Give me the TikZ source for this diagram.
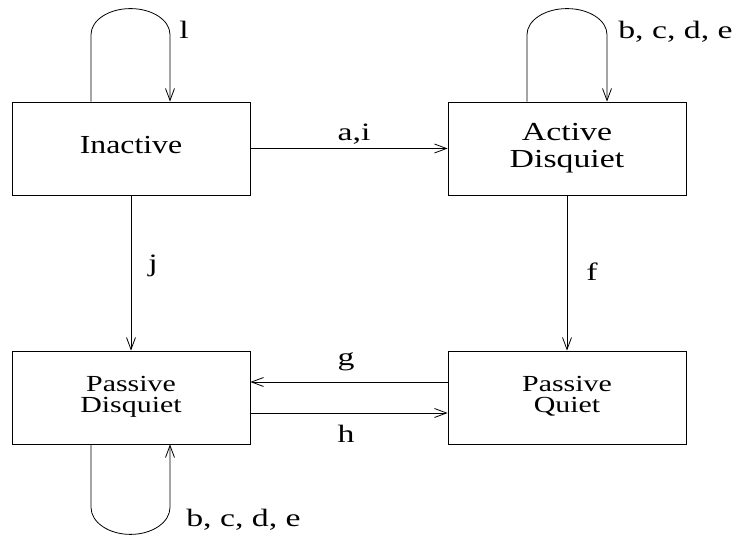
\documentclass[tikz,border=0pt]{standalone}
\usepackage{fontspec}
\setmainfont{Liberation Serif}
\usepackage{graphicx}
\usetikzlibrary{arrows.meta}
\newcommand{\wtxt}[2][1.3]{\scalebox{#1}[1]{\begin{tabular}{@{}c@{}}#2\end{tabular}}}
\newcommand{\lowr}[2]{\raisebox{-#1}{#2}}
\tikzset{
  x=1pt, y=1pt,
  statebox/.style={draw, line width=0.8pt, minimum width=238pt, minimum height=93pt, inner sep=0pt},
  bigtxt/.style={font=\fontsize{26}{27}\selectfont},
  smalltxt/.style={font=\fontsize{23}{21}\selectfont},
  lbl/.style={font=\fontsize{25}{25}\selectfont, anchor=base, inner sep=0pt},
  conn/.style={line width=0.8pt, -{Straight Barb[length=12pt,width=9pt,line width=0.8pt]}},
}
\begin{document}
\begin{tikzpicture}
\useasboundingbox (0,0) rectangle (735,537);
\node[statebox, bigtxt] (inactive) at (131,388.5) {\lowr{3pt}{\wtxt[1.22]{Inactive}}};
\node[statebox, bigtxt] (active) at (567,388.5) {\lowr{2.6pt}{\wtxt[1.3]{Active\\Disquiet}}};
\node[statebox, smalltxt] (pdis) at (131,139.5) {\lowr{6.8pt}{\wtxt[1.3]{Passive\\Disquiet}}};
\node[statebox, smalltxt] (pquiet) at (567,139.5) {\lowr{6.8pt}{\wtxt[1.3]{Passive\\Quiet}}};
% straight connectors
\draw[conn] (inactive.east) -- (active.west);
\draw[conn] (inactive.south) -- (pdis.north);
\draw[conn] (active.south) -- (pquiet.north);
\draw[conn] ([yshift=15.5pt]pquiet.west) -- ([yshift=15.5pt]pdis.east);
\draw[conn] ([yshift=-15.5pt]pdis.east) -- ([yshift=-15.5pt]pquiet.west);
% loops
\draw[conn] ([xshift=-40pt]inactive.north) -- ++(0,67) arc[start angle=180, end angle=0, x radius=39.5pt, y radius=26pt] -- ([xshift=39pt]inactive.north);
\draw[conn] ([xshift=-40pt]active.north) -- ++(0,67) arc[start angle=180, end angle=0, x radius=40pt, y radius=26pt] -- ([xshift=40pt]active.north);
\draw[conn] ([xshift=-40pt]pdis.south) -- ++(0,-63) arc[start angle=180, end angle=360, x radius=39.5pt, y radius=27pt] -- ([xshift=39pt]pdis.south);
% labels
\node[lbl] (ll) at (184,497) {\wtxt[1.35]{l}};
\node[lbl] (lbcde1) at (675.5,497) {\wtxt[1.35]{b, c, d, e}};
\node[lbl] (lai) at (354,395) {\wtxt[1.35]{a,i}};
\node[lbl] (lj) at (153,264) {\wtxt[1.35]{j}};
\node[lbl] (lf) at (592,255) {\wtxt[1.35]{f}};
\node[lbl] (lg) at (346,170) {\wtxt[1.35]{g}};
\node[lbl] (lh) at (346,93) {\wtxt[1.35]{h}};
\node[lbl] (lbcde2) at (243.5,9) {\wtxt[1.35]{b, c, d, e}};
\end{tikzpicture}
\end{document}
